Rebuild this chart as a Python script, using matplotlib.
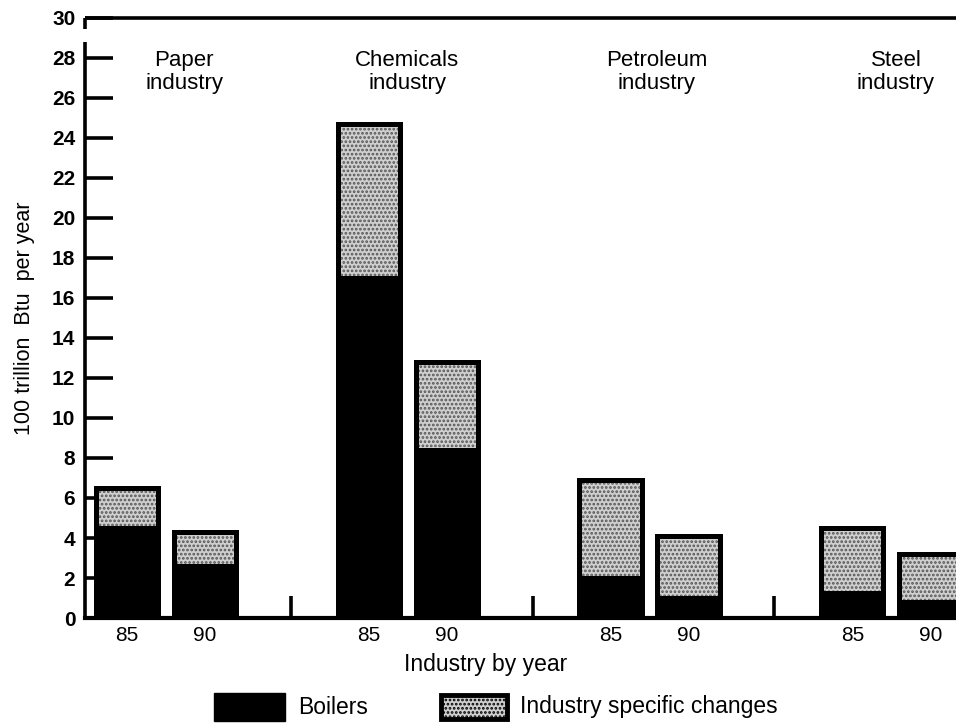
import numpy as np
import matplotlib
matplotlib.use("Agg")
import matplotlib.pyplot as plt
from matplotlib.patches import Rectangle

plt.rcParams["font.family"] = ["Liberation Sans", "DejaVu Sans"]
plt.rcParams["hatch.linewidth"] = 1.3

industries = ["Paper\nindustry", "Chemicals\nindustry", "Petroleum\nindustry", "Steel\nindustry"]
years = ["85", "90"]
boilers = [4.6, 2.7, 17.1, 8.5, 2.1, 1.1, 1.35, 0.9]
totals = [6.5, 4.3, 24.7, 12.8, 6.9, 4.1, 4.5, 3.2]
yticks = list(range(0, 32, 2))

GAP = 3.1
W = 0.8
STIPPLE = "#cfcfcf"
pos = np.array([g * GAP + k for g in range(len(industries)) for k in range(len(years))], float)
specific = np.array(totals) - np.array(boilers)

fig = plt.figure(figsize=(9.56, 7.23), dpi=100)
ax = fig.add_axes([85 / 956, 1 - 618 / 723, 1 - 85 / 956, 600 / 723])
ax.set_xlim(-0.54, 10.63)
ax.set_ylim(0, 30)
for s in ax.spines.values():
    s.set_visible(False)

# stacked bars: stippled top with a thick black outline, solid black boilers
ax.bar(pos, specific, W, bottom=boilers, color=STIPPLE, edgecolor="#555555",
       hatch="....", linewidth=0, zorder=2)
ax.bar(pos, totals, W, facecolor="none", edgecolor="black", linewidth=3.6, zorder=3)
ax.bar(pos, boilers, W, color="black", linewidth=0, zorder=4)

# frame: left spine with a small break under the top corner, top line, base line
kw = dict(color="black", lw=2.6, solid_capstyle="butt", clip_on=False)
ax.plot([-0.54, -0.54], [0, 28.8], **kw)
ax.plot([-0.54, -0.54], [29.45, 30], **kw)
ax.plot([-0.54, 10.63], [30, 30], **kw)
ax.plot([-0.54, 10.63], [0, 0], color="black", lw=3, clip_on=False, zorder=5)

# group separator ticks on the base line
for g in range(1, len(industries)):
    xs = g * GAP - 1.0
    ax.plot([xs, xs], [0, 1.1], color="black", lw=2.6, solid_capstyle="butt")

ax.set_yticks(yticks)
ax.set_yticklabels([str(v) for v in yticks], fontsize=15, fontweight="bold")
ax.tick_params(axis="y", direction="in", length=20, width=2.6, pad=7)
ax.set_xticks(pos)
ax.set_xticklabels([years[i % 2] for i in range(len(pos))], fontsize=15)
ax.tick_params(axis="x", length=0, pad=6)

ax.set_ylabel("100 trillion  Btu  per year", fontsize=15.5, labelpad=12)

label_x = [0.73, 3.59, 6.79, 9.86]
for x, name in zip(label_x, industries):
    ax.text(x, 28.4, name, ha="center", va="top", fontsize=16, linespacing=1.15)

fig.text(486 / 956, 1 - 665 / 723, "Industry by year", ha="center", va="center", fontsize=16.5)

# legend
fig.patches.append(Rectangle((214 / 956, 1 - 721 / 723), 71 / 956, 28 / 723,
                             transform=fig.transFigure, facecolor="black", edgecolor="black"))
fig.text(298 / 956, 1 - 707 / 723, "Boilers", ha="left", va="center", fontsize=16.5)
fig.patches.append(Rectangle((441 / 956, 1 - 719 / 723), 66 / 956, 24 / 723,
                             transform=fig.transFigure, facecolor=STIPPLE, edgecolor="black",
                             linewidth=3.5, hatch="...."))
fig.text(520 / 956, 1 - 707 / 723, "Industry specific changes", ha="left", va="center", fontsize=16.5)

fig.savefig("out.png", dpi=100)
